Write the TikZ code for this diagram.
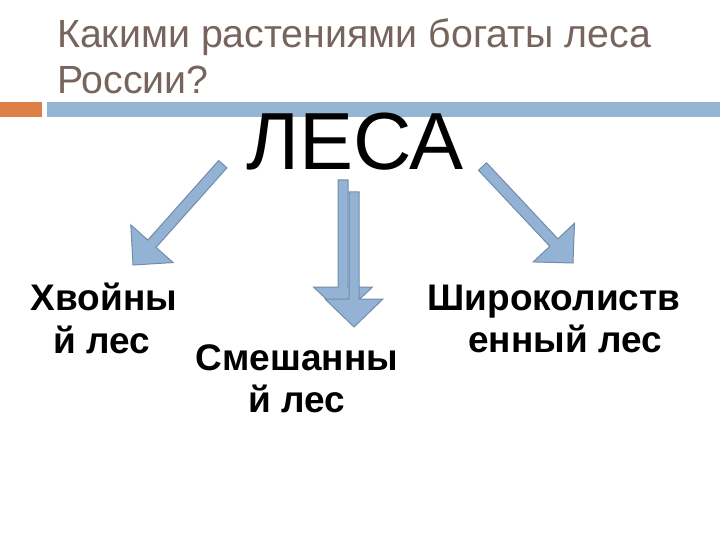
\documentclass[tikz,border=0pt]{standalone}
\usepackage{fontspec}
\setmainfont{Liberation Sans}
\usetikzlibrary{calc}
\definecolor{titlecol}{RGB}{119,100,92}
\definecolor{accblue}{RGB}{148,182,210}
\definecolor{accorange}{RGB}{221,128,71}
\definecolor{arrfill}{RGB}{148,179,212}
\definecolor{arrline}{RGB}{112,140,172}
\tikzset{
  blockarr/.style={fill=arrfill,draw=arrline,line width=1pt,line join=miter},
  titletext/.style={anchor=base west,inner sep=0pt,text=titlecol,font=\fontsize{39.3}{46}\selectfont},
  labeltext/.style={anchor=base,inner sep=0pt,font=\bfseries\fontsize{37}{43}\selectfont}
}
% #1 tail, #2 tip, #3 shaft half width, #4 head half width, #5 head length
\newcommand\mkblockarrow[5]{%
  \coordinate (bb) at ($(#2)!#5!(#1)$);
  \path[blockarr] ($(#1)!#3!90:(#2)$) -- ($(bb)!#3!90:(#2)$) -- ($(bb)!#4!90:(#2)$)
    -- (#2) -- ($(bb)!#4!-90:(#2)$) -- ($(bb)!#3!-90:(#2)$) -- ($(#1)!#3!-90:(#2)$) -- cycle;
}
\begin{document}
\begin{tikzpicture}[x=1pt,y=-1pt]
\useasboundingbox (0,0) rectangle (720,540);
\fill[white] (0,0) rectangle (720,540);
% title
\node[titletext] (t1) at (57,48) {Какими растениями богаты леса};
\node[titletext] (t2) at (57,94) {России?};
% bars
\fill[accorange] (0,102) rectangle (42,117);
\fill[accblue] (47,102) rectangle (720,117);
% main word
\node[anchor=base,inner sep=0pt,font=\fontsize{81}{90}\selectfont] (lesa) at (355,170) {ЛЕСА};
% arrows
\coordinate (lt) at (222.8,164.2);
\coordinate (lh) at (133,265);
\mkblockarrow{lt}{lh}{5.5pt}{28.3pt}{28.5pt}
\coordinate (rt) at (482.5,166.5);
\coordinate (rh) at (573,263);
\mkblockarrow{rt}{rh}{5.5pt}{28.3pt}{28pt}
\coordinate (mt1) at (343,180);
\coordinate (mh1) at (343,315);
\mkblockarrow{mt1}{mh1}{5pt}{29.5pt}{28pt}
\coordinate (mt2) at (354,192);
\coordinate (mh2) at (354,327);
\mkblockarrow{mt2}{mh2}{5pt}{29pt}{28pt}
% labels
\node[labeltext] (a1) at (104,310) {Хвойны};
\node[labeltext] (a2) at (102,353) {й лес};
\node[labeltext] (b1) at (297,370) {Смешанны};
\node[labeltext] (b2) at (297,412) {й лес};
\node[labeltext] (c1) at (554,310) {Широколиств};
\node[labeltext] (c2) at (565,352) {енный лес};
\end{tikzpicture}
\end{document}
